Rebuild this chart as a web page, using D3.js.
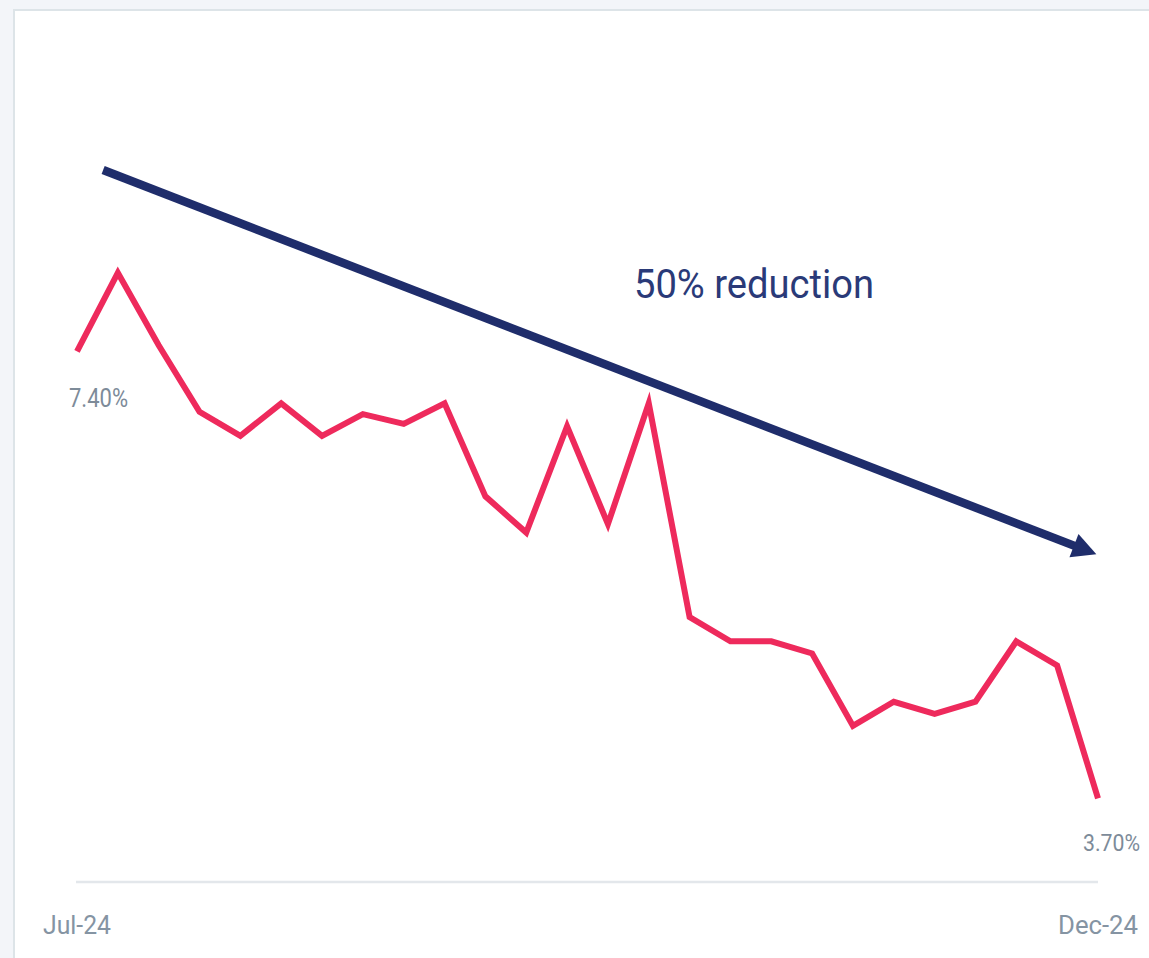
<!DOCTYPE html>
<html>
<head>
<meta charset="utf-8">
<script src="https://cdn.jsdelivr.net/npm/d3@7"></script>
<style>
  html, body { margin: 0; padding: 0; background: #f3f5f9; }
  svg { display: block; }
</style>
</head>
<body>
<svg id="chart" width="1149" height="958"></svg>
<script>
// ---- data ----
const categories = [
  "2024-07-01","2024-07-08","2024-07-15","2024-07-22","2024-07-29",
  "2024-08-05","2024-08-12","2024-08-19","2024-08-26",
  "2024-09-02","2024-09-09","2024-09-16","2024-09-23","2024-09-30",
  "2024-10-07","2024-10-14","2024-10-21","2024-10-28",
  "2024-11-04","2024-11-11","2024-11-18","2024-11-25",
  "2024-12-02","2024-12-09","2024-12-16","2024-12-23"
];
const values = [7.40, 8.05, 7.45, 6.90, 6.70, 6.97, 6.70, 6.88, 6.80, 6.97,
                6.20, 5.90, 6.78, 5.97, 6.97, 5.20, 5.00, 5.00, 4.90, 4.30,
                4.50, 4.40, 4.50, 5.00, 4.80, 3.70];
const tickLabels = ["Jul-24", "Dec-24"];
const endLabels = ["7.40%", "3.70%"];
const annotationText = "50% reduction";
// trend arrow in data coordinates: [index, value]
const trendStart = [0.64, 8.90];
const trendEnd = [24.96, 5.72];

// ---- layout ----
const svg = d3.select("#chart");
const W = 1149, H = 958;

svg.append("rect")
  .attr("x", 14).attr("y", 10)
  .attr("width", W + 10).attr("height", H + 10)
  .attr("fill", "#ffffff")
  .attr("stroke", "#dde4e8").attr("stroke-width", 2);

const x = d3.scalePoint().domain(categories).range([77, 1098]);
const xi = d3.scaleLinear().domain([0, categories.length - 1]).range([77, 1098]);
const y = d3.scaleLinear().domain([3, 9]).range([883, 158]);

// baseline axis
svg.append("line")
  .attr("x1", x(categories[0]) - 1).attr("x2", x(categories[categories.length - 1]))
  .attr("y1", y(3) - 1).attr("y2", y(3) - 1)
  .attr("stroke", "#e3e7eb").attr("stroke-width", 2.5);

// tick labels
const tickCats = [categories[0], categories[categories.length - 1]];
svg.selectAll("text.tick").data(tickCats).enter().append("text")
  .attr("class", "tick")
  .attr("x", d => x(d))
  .attr("y", 934)
  .attr("text-anchor", "middle")
  .attr("font-family", "Roboto, sans-serif")
  .attr("font-weight", 400)
  .attr("font-size", 26)
  .attr("fill", "#8594a3")
  .attr("textLength", (d, i) => i === 0 ? 68 : 80)
  .attr("lengthAdjust", "spacingAndGlyphs")
  .text((d, i) => tickLabels[i]);

// trend arrow
const sx = xi(trendStart[0]), sy = y(trendStart[1]);
const ex = xi(trendEnd[0]), ey = y(trendEnd[1]);
const ang = Math.atan2(ey - sy, ex - sx);
const headLen = 24, headHalf = 12.5;
const bx = ex - headLen * Math.cos(ang), by = ey - headLen * Math.sin(ang);
svg.append("line")
  .attr("x1", sx).attr("y1", sy)
  .attr("x2", bx + 2 * Math.cos(ang)).attr("y2", by + 2 * Math.sin(ang))
  .attr("stroke", "#1f2d6b").attr("stroke-width", 8.5);
svg.append("polygon")
  .attr("points", [
    [ex, ey],
    [bx + headHalf * Math.sin(ang), by - headHalf * Math.cos(ang)],
    [bx - headHalf * Math.sin(ang), by + headHalf * Math.cos(ang)]
  ].map(p => p.join(",")).join(" "))
  .attr("fill", "#1f2d6b");

// annotation
svg.append("text")
  .attr("x", 634).attr("y", 298)
  .attr("font-family", "Roboto, sans-serif")
  .attr("font-weight", 400)
  .attr("font-size", 40)
  .attr("fill", "#2a3a78")
  .attr("textLength", 240)
  .attr("lengthAdjust", "spacingAndGlyphs")
  .text(annotationText);

// line
const line = d3.line()
  .x((d, i) => x(categories[i]))
  .y(d => y(d));
svg.append("path")
  .datum(values)
  .attr("d", line)
  .attr("fill", "none")
  .attr("stroke", "#ee2a5c")
  .attr("stroke-width", 6)
  .attr("stroke-linejoin", "miter")
  .attr("stroke-linecap", "butt");

// end labels
svg.append("text")
  .attr("x", x(categories[0]) - 8)
  .attr("y", y(values[0]) + 56)
  .attr("font-family", "Roboto, sans-serif")
  .attr("font-weight", 400)
  .attr("font-size", 26)
  .attr("fill", "#7d8b99")
  .attr("textLength", 59)
  .attr("lengthAdjust", "spacingAndGlyphs")
  .text(endLabels[0]);
svg.append("text")
  .attr("x", x(categories[categories.length - 1]) - 15)
  .attr("y", y(values[values.length - 1]) + 53)
  .attr("font-family", "Roboto, sans-serif")
  .attr("font-weight", 400)
  .attr("font-size", 24)
  .attr("fill", "#7d8b99")
  .attr("textLength", 57)
  .attr("lengthAdjust", "spacingAndGlyphs")
  .text(endLabels[1]);
</script>
</body>
</html>
